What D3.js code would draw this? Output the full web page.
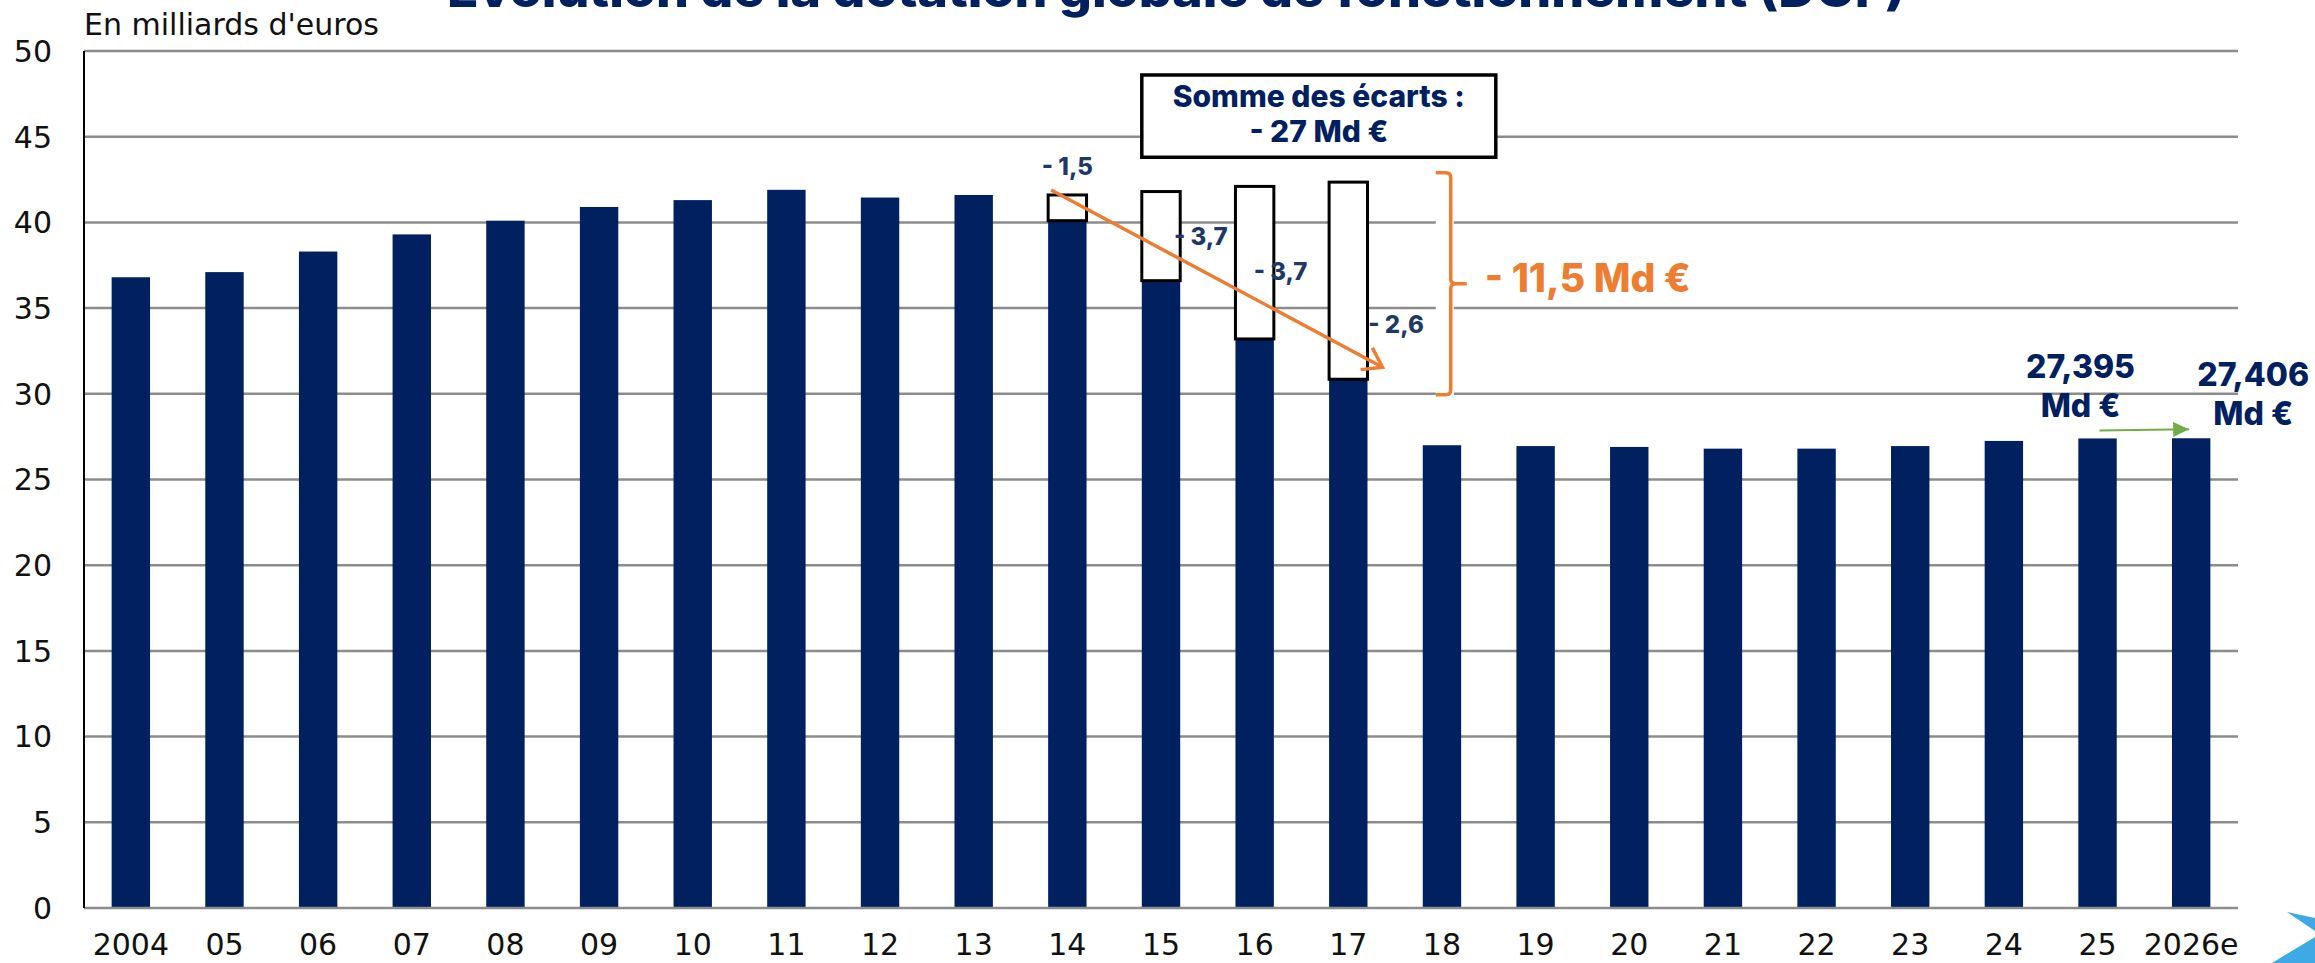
<!DOCTYPE html>
<html>
<head>
<meta charset="utf-8">
<script src="https://cdn.jsdelivr.net/npm/d3@7"></script>
<style>
  body { margin: 0; background: #fff; }
  svg { display: block; }
</style>
</head>
<body>
<div id="chart"></div>
<script>
// Chart data (in billions of euros)
const years = ["2004", "05", "06", "07", "08", "09", "10", "11", "12", "13", "14", "15",
  "16", "17", "18", "19", "20", "21", "22", "23", "24", "25", "2026e"];
const dgf = [36.8, 37.1, 38.3, 39.3, 40.1, 40.9, 41.3, 41.9, 41.45, 41.6, 40.1, 36.6,
  33.2, 30.85, 27.0, 26.95, 26.9, 26.8, 26.8, 26.95, 27.25, 27.395, 27.406];
const cutYears = ["14", "15", "16", "17"];
const yearlyCuts = [1.5, 3.7, 3.7, 2.6];
const yTicks = [0, 5, 10, 15, 20, 25, 30, 35, 40, 45, 50];

const width = 2315;
const height = 963;
const navy = "#002060";
const orange = "#ED7D31";
const green = "#70AD47";
const regular = "'DejaVu Sans', sans-serif";
const bold = "Inter, 'DejaVu Sans', sans-serif";

const fr = d3.formatLocale({ decimal: ",", thousands: " ", grouping: [3], currency: ["", " €"] });

const svg = d3.select("#chart")
  .append("svg")
  .attr("width", width)
  .attr("height", height);

// Scales
const x = d3.scaleBand()
  .domain(years)
  .range([84, 2238])
  .paddingInner(0.59)
  .paddingOuter(0.295);

const y = d3.scaleLinear()
  .domain([0, 50])
  .range([908, 51]);

const bw = x.bandwidth();
const value = d => dgf[years.indexOf(d)];

// Cumulative gap for 2014-2017
const cumCuts = Array.from(d3.cumsum(yearlyCuts));
const cutData = cutYears.map((yr, i) => ({
  year: yr, cut: yearlyCuts[i], cum: cumCuts[i], base: value(yr), total: value(yr) + cumCuts[i]
}));
const totalDrop = d3.sum(yearlyCuts);
const sumOfGaps = d3.sum(cumCuts);

// Title (cut at the top edge as in the original)
svg.append("text")
  .attr("x", 447)
  .attr("y", 7)
  .attr("textLength", 1458)
  .attr("lengthAdjust", "spacingAndGlyphs")
  .attr("fill", navy)
  .style("font", `800 48px ${bold}`)
  .text("Évolution de la dotation globale de fonctionnement (DGF)");

// Unit label
svg.append("text")
  .attr("x", 84)
  .attr("y", 35)
  .attr("fill", "#111")
  .style("font", `400 30px ${regular}`)
  .text("En milliards d'euros");

// Gridlines
svg.append("g")
  .selectAll("line")
  .data(yTicks.filter(t => t > 0))
  .join("line")
  .attr("x1", 84)
  .attr("x2", 2238)
  .attr("y1", d => y(d))
  .attr("y2", d => y(d))
  .attr("stroke", "#8c8c8c")
  .attr("stroke-width", 2.5);

// Y axis labels
svg.append("g")
  .selectAll("text")
  .data(yTicks)
  .join("text")
  .attr("x", 52)
  .attr("y", d => y(d))
  .attr("dy", "0.36em")
  .attr("text-anchor", "end")
  .attr("fill", "#111")
  .style("font", `400 30px ${regular}`)
  .text(d => d);

// Bars
svg.append("g")
  .selectAll("rect")
  .data(years)
  .join("rect")
  .attr("x", d => x(d))
  .attr("y", d => y(value(d)))
  .attr("width", bw)
  .attr("height", d => y(0) - y(value(d)))
  .attr("fill", navy);

// White boxes showing the cumulative cut
svg.append("g")
  .selectAll("rect")
  .data(cutData)
  .join("rect")
  .attr("x", d => x(d.year))
  .attr("y", d => y(d.total))
  .attr("width", bw)
  .attr("height", d => y(d.base) - y(d.total))
  .attr("fill", "#fff")
  .attr("stroke", "#000")
  .attr("stroke-width", 3);

// Axes lines
svg.append("line")
  .attr("x1", 84).attr("x2", 2238)
  .attr("y1", y(0)).attr("y2", y(0))
  .attr("stroke", "#8c8c8c")
  .attr("stroke-width", 2.5);

svg.append("line")
  .attr("x1", 84).attr("x2", 84)
  .attr("y1", y(50)).attr("y2", y(0))
  .attr("stroke", "#000")
  .attr("stroke-width", 2);

// X axis labels
svg.append("g")
  .selectAll("text")
  .data(years)
  .join("text")
  .attr("x", d => x(d) + bw / 2)
  .attr("y", 955)
  .attr("text-anchor", "middle")
  .attr("fill", "#111")
  .style("font", `400 30px ${regular}`)
  .text(d => d);

// Labels of the yearly cuts
const cutLabelLayout = [
  { dx: 0, anchor: "middle", at: 42.75 },
  { dx: 13, anchor: "start", at: 38.68 },
  { dx: -1, anchor: "start", at: 36.64 },
  { dx: 20, anchor: "start", at: 33.55 }
];

svg.append("g")
  .selectAll("text")
  .data(cutData)
  .join("text")
  .attr("x", (d, i) => x(d.year) + bw / 2 + cutLabelLayout[i].dx)
  .attr("y", (d, i) => y(cutLabelLayout[i].at))
  .attr("text-anchor", (d, i) => cutLabelLayout[i].anchor)
  .attr("fill", "#1F3864")
  .style("font", `800 24px ${bold}`)
  .text(d => "- " + fr.format(".1f")(d.cut));

// Orange arrow across the cut years
const first = cutData[0];
const last = cutData[cutData.length - 1];
const ax1 = x(first.year) + 3, ay1 = y(first.total) - 5;
const ax2 = x(last.year) + bw + 15, ay2 = y(last.base) - 12;
const ang = Math.atan2(ay2 - ay1, ax2 - ax1);
const headLen = 22, spread = 0.6;

svg.append("line")
  .attr("x1", ax1).attr("y1", ay1)
  .attr("x2", ax2).attr("y2", ay2)
  .attr("stroke", orange)
  .attr("stroke-width", 3.5);

svg.append("path")
  .attr("d", `M${ax2 - headLen * Math.cos(ang - spread)},${ay2 - headLen * Math.sin(ang - spread)}
    L${ax2},${ay2}
    L${ax2 - headLen * Math.cos(ang + spread)},${ay2 - headLen * Math.sin(ang + spread)}`)
  .attr("fill", "none")
  .attr("stroke", orange)
  .attr("stroke-width", 3.5);

// Bracket with the total drop
const bx = x("18") + 28;
const bTop = y(42.9), bBot = y(29.95), bMid = (bTop + bBot) / 2;

svg.append("rect")
  .attr("x", bx - 15).attr("y", bTop - 3)
  .attr("width", 18).attr("height", bBot - bTop + 6)
  .attr("fill", "#fff");

svg.append("path")
  .attr("d", `M${bx - 15},${bTop} L${bx - 5},${bTop} Q${bx},${bTop} ${bx},${bTop + 5}
    L${bx},${bMid - 5} Q${bx},${bMid} ${bx + 5},${bMid} L${bx + 16},${bMid}
    M${bx + 5},${bMid} Q${bx},${bMid} ${bx},${bMid + 5}
    L${bx},${bBot - 5} Q${bx},${bBot} ${bx - 5},${bBot} L${bx - 15},${bBot}`)
  .attr("fill", "none")
  .attr("stroke", orange)
  .attr("stroke-width", 3.5);

svg.append("text")
  .attr("x", bx + 34)
  .attr("y", bMid + 8)
  .attr("fill", orange)
  .style("font", `800 39px ${bold}`)
  .text("- " + fr.format(".1f")(totalDrop) + " Md €");

// Box with the sum of the gaps
const boxX = x("15"), boxW = 354;
svg.append("rect")
  .attr("x", boxX).attr("y", y(48.6))
  .attr("width", boxW).attr("height", y(43.8) - y(48.6))
  .attr("fill", "#fff")
  .attr("stroke", "#000")
  .attr("stroke-width", 3.5);

svg.append("text")
  .attr("x", boxX + boxW / 2)
  .attr("y", y(46.75))
  .attr("text-anchor", "middle")
  .attr("fill", navy)
  .style("font", `800 30px ${bold}`)
  .text("Somme des écarts :");

svg.append("text")
  .attr("x", boxX + boxW / 2)
  .attr("y", y(44.7))
  .attr("text-anchor", "middle")
  .attr("fill", navy)
  .style("font", `800 30px ${bold}`)
  .text("- " + fr.format(".0f")(sumOfGaps) + " Md €");

// Labels on the last two bars
const endYears = ["25", "2026e"];
const endLayout = [{ dx: -17, dy: -60 }, { dx: 62, dy: -52 }];
const endLabels = svg.append("g")
  .selectAll("text")
  .data(endYears)
  .join("text")
  .attr("x", (d, i) => x(d) + bw / 2 + endLayout[i].dx)
  .attr("y", (d, i) => y(value(d)) + endLayout[i].dy)
  .attr("text-anchor", "middle")
  .attr("fill", navy)
  .style("font", `800 32px ${bold}`);

endLabels.append("tspan")
  .text(d => fr.format(".3f")(value(d)));

endLabels.append("tspan")
  .attr("x", (d, i) => x(d) + bw / 2 + endLayout[i].dx)
  .attr("dy", 39)
  .text("Md €");

// Green arrow between 2025 and 2026e
svg.append("defs")
  .append("marker")
  .attr("id", "greenHead")
  .attr("viewBox", "0 0 16 15")
  .attr("refX", 16).attr("refY", 7.5)
  .attr("markerWidth", 16).attr("markerHeight", 15)
  .attr("markerUnits", "userSpaceOnUse")
  .attr("orient", "auto")
  .append("path")
  .attr("d", "M0,0 L16,7.5 L0,15 Z")
  .attr("fill", green);

svg.append("line")
  .attr("x1", x("25") + bw / 2 + 2).attr("y1", y(value("25")) - 8)
  .attr("x2", x("2026e") + bw / 2 - 2).attr("y2", y(value("2026e")) - 9)
  .attr("stroke", green)
  .attr("stroke-width", 2)
  .attr("marker-end", "url(#greenHead)");

// Corner logo fragment
svg.append("path")
  .attr("d", "M2287,912 L2315,918 L2315,931 Z M2315,937 L2315,963 L2272,963 Z")
  .attr("fill", "#3FA9E5");
</script>
</body>
</html>
